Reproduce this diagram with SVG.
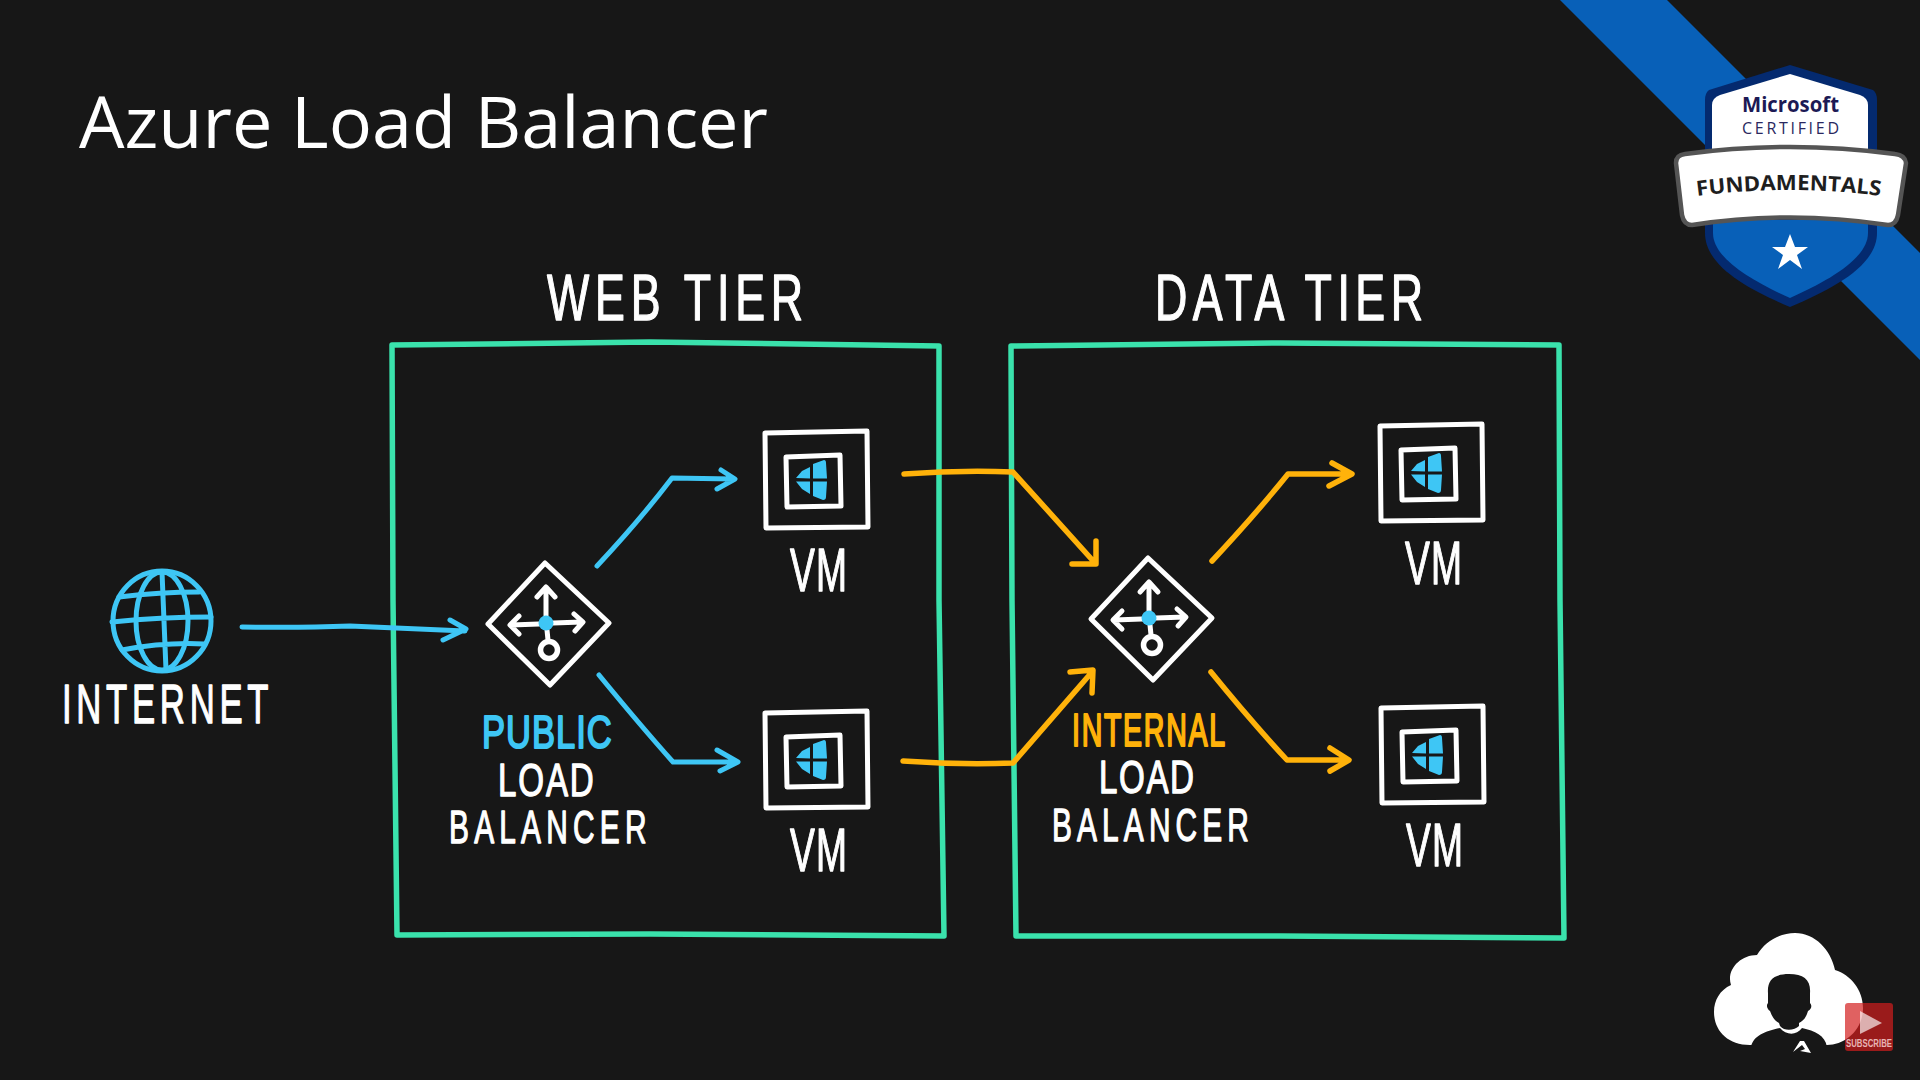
<svg xmlns="http://www.w3.org/2000/svg" xmlns:xlink="http://www.w3.org/1999/xlink" width="1920" height="1080" viewBox="0 0 1920 1080">
<style>
.hand{font-family:"Liberation Sans","Noto Sans",sans-serif;stroke-linejoin:round;stroke-linecap:round;stroke-width:1.3}
.w{fill:#fff;stroke:#fff}.c{fill:#3ec6f5;stroke:#3ec6f5;stroke-width:2}.o{fill:#ffb20a;stroke:#ffb20a;stroke-width:2.2}
.line{fill:none;stroke-linecap:round;stroke-linejoin:round}
.wl{stroke:#fff;stroke-width:5}.cl{stroke:#3ec6f5;stroke-width:5}.ol{stroke:#ffb20a;stroke-width:5.5}.gl{stroke:#3ae2ac;stroke-width:5.5}
</style>
<defs>
<g id="vm-icon">
<path class="line wl" d="M765,433 L867,431 L868,527 L766,528 Z"/>
<path class="line wl" d="M786,457 L840,455 L841,506 L787,507 Z"/>
<path fill="#3ec6f5" d="M796,478 L802,471 L810,467 V478.5 Z M796,481.5 H810 V494 L802,489 Z M813,464 L824,460 Q826,460 826,463 L827,478.5 H813 Z M813,481.5 H827 L826,497 Q826,500 823,500 L813,496 Z"/>
</g>
<g id="lb-icon">
<path class="line wl" d="M1148,558 L1212,618 L1153,680 L1091,619 Z"/>
<path class="line wl" d="M1149,612 V584 M1140,592 L1149,582 L1158,592 M1142,619 L1114,620 M1122,611 L1113,620 L1122,629 M1156,618 L1185,617 M1177,609 L1186,617 L1178,626 M1150,625 L1151,635"/>
<circle cx="1152" cy="645" r="8.5" fill="none" stroke="#fff" stroke-width="5.5"/>
<circle cx="1149" cy="618" r="7.5" fill="#3ec6f5"/>
</g>
</defs>
<rect id="background" width="1920" height="1080" fill="#171717"/>
<polygon id="ribbon" points="1560,0 1667,0 1920,253 1920,360" fill="#0860b8"/>
<text id="title" x="79" y="148" font-family="'Open Sans','Noto Sans',sans-serif" font-size="72" fill="#fff" textLength="689" lengthAdjust="spacingAndGlyphs">Azure Load Balancer</text>

<g id="connectors">
<path class="line gl" d="M392,345 L650,342 L939,346 L939,600 L944,936 L650,934 L397,935 L393,600 Z" id="web-tier-box"/>
<path class="line gl" d="M1011,346 L1280,343 L1559,345 L1560,600 L1564,938 L1280,936 L1016,936 L1012,600 Z" id="data-tier-box"/>
<path class="line cl" d="M242,627 Q300,628 350,626 L465,631 M450,620 L466,629 L443,640"/>
<path class="line cl" d="M597,566 Q640,520 672,478 L733,479 M721,470 L735,479 L717,489"/>
<path class="line cl" d="M599,675 Q640,725 673,762 L736,762 M717,750 L738,762 L720,771"/>
<path class="line ol" d="M904,474 Q960,470 1013,472 L1095,563 M1096,541 L1096,564 L1072,564"/>
<path class="line ol" d="M903,761 Q960,765 1013,763 L1092,672 M1070,672 L1093,670 L1092,693"/>
<path class="line ol" d="M1212,561 Q1255,515 1288,474 L1350,474 M1332,463 L1352,474 L1329,486"/>
<path class="line ol" d="M1211,672 Q1250,720 1287,760 L1347,760 M1330,748 L1349,760 L1330,771"/>
</g>

<g id="internet">
<g class="line cl">
<ellipse cx="162" cy="621" rx="49" ry="50"/>
<ellipse cx="162" cy="621" rx="26" ry="49"/>
<path d="M162,572 L166,670 M119,597 Q160,592 199,592 M112,622 Q160,617 211,617 M122,650 Q165,642 204,644"/>
</g>
<text class="hand w" transform="translate(62,723) scale(.62,1)" font-size="56" textLength="333" lengthAdjust="spacing">INTERNET</text>
</g>

<g id="web-tier-label"><text class="hand w" transform="translate(547,320) scale(.7,1)" font-size="64" textLength="366" lengthAdjust="spacing">WEB TIER</text></g>
<g id="data-tier-label"><text class="hand w" transform="translate(1155,320) scale(.7,1)" font-size="64" textLength="383" lengthAdjust="spacing">DATA TIER</text></g>

<g id="public-lb">
<use xlink:href="#lb-icon" href="#lb-icon" transform="translate(-603,5)"/>
<text class="hand c" transform="translate(482,748) scale(.75,1)" font-size="46" textLength="173" lengthAdjust="spacing">PUBLIC</text>
<text class="hand w" transform="translate(498,796) scale(.72,1)" font-size="46" textLength="133" lengthAdjust="spacing">LOAD</text>
<text class="hand w" transform="translate(449,843) scale(.65,1)" font-size="46" textLength="304" lengthAdjust="spacing">BALANCER</text>
</g>
<g id="internal-lb">
<use xlink:href="#lb-icon" href="#lb-icon"/>
<text class="hand o" transform="translate(1072,746) scale(.62,1)" font-size="46" textLength="247" lengthAdjust="spacing">INTERNAL</text>
<text class="hand w" transform="translate(1099,793) scale(.72,1)" font-size="46" textLength="132" lengthAdjust="spacing">LOAD</text>
<text class="hand w" transform="translate(1052,841) scale(.65,1)" font-size="46" textLength="303" lengthAdjust="spacing">BALANCER</text>
</g>

<g id="web-vm-1"><use xlink:href="#vm-icon" href="#vm-icon"/><text class="hand w" transform="translate(790,591) scale(.6,1)" font-size="62" textLength="95" lengthAdjust="spacing">VM</text></g>
<g id="web-vm-2"><use xlink:href="#vm-icon" href="#vm-icon" transform="translate(0,280)"/><text class="hand w" transform="translate(790,871) scale(.6,1)" font-size="62" textLength="95" lengthAdjust="spacing">VM</text></g>
<g id="data-vm-1"><use xlink:href="#vm-icon" href="#vm-icon" transform="translate(615,-7)"/><text class="hand w" transform="translate(1405,584) scale(.6,1)" font-size="62" textLength="95" lengthAdjust="spacing">VM</text></g>
<g id="data-vm-2"><use xlink:href="#vm-icon" href="#vm-icon" transform="translate(616,275)"/><text class="hand w" transform="translate(1406,866) scale(.6,1)" font-size="62" textLength="95" lengthAdjust="spacing">VM</text></g>

<g id="badge">
<path fill="#042a6f" d="M1790,65 L1873,90 Q1877,93 1877,100 L1877,233 C1877,265 1835,288 1790,307 C1745,288 1705,265 1705,233 L1705,100 Q1705,93 1709,90 Z"/>
<path fill="#fff" d="M1790,74 L1860,95 Q1868,98 1868,105 L1868,155 L1712,155 L1712,105 Q1712,98 1720,95 Z"/>
<path fill="#0860b8" d="M1713,220 L1868,220 L1868,233 C1868,258 1830,280 1790,298 C1750,280 1713,258 1713,233 Z"/>
<path fill="#fff" stroke="#555" stroke-width="4.5" stroke-linejoin="round" d="M1676,163 Q1676,155 1685,154 Q1790,140 1895,154 Q1905,155 1906,163 L1898,215 Q1896,225 1888,225 Q1790,210 1692,225 Q1684,225 1682,215 Z"/>
<polygon fill="#fff" points="1790,234 1795,247 1808,247 1797,255 1802,269 1790,260 1778,269 1783,255 1772,247 1785,247"/>
<text x="1742" y="112" font-family="'Open Sans','Noto Sans',sans-serif" font-weight="700" font-size="21" fill="#1c1a55" textLength="97" lengthAdjust="spacingAndGlyphs">Microsoft</text>
<text x="1742" y="134" font-family="'Open Sans','Noto Sans',sans-serif" font-size="16" fill="#2a2860" textLength="97">CERTIFIED</text>
<path id="fund-arc" d="M1697,196 Q1789,184 1881,196" fill="none"/>
<text font-family="'Open Sans','Noto Sans',sans-serif" font-weight="700" font-size="21" fill="#1e1e1e"><textPath xlink:href="#fund-arc" href="#fund-arc" textLength="184" lengthAdjust="spacingAndGlyphs">FUNDAMENTALS</textPath></text>
</g>

<g id="presenter">
<path fill="#fff" d="M1750,1045 C1727,1045 1714,1030 1714,1012 C1714,1000 1720,990 1731,985 C1726,970 1740,955 1757,955 C1765,941 1780,933 1795,933 C1815,933 1831,950 1835,970 C1851,975 1863,990 1863,1008 C1863,1030 1845,1045 1827,1045 Z"/>
<path fill="#171717" d="M1751,1047 C1753,1036 1765,1031 1780,1028 C1786,1035 1796,1036 1802,1028 C1815,1031 1825,1035 1827,1047 Z"/>
<path fill="#171717" d="M1789,974 C1804,974 1811,980 1810,993 L1810,1003 C1812,1005 1812,1009 1808,1011 C1806,1018 1803,1021 1799,1023 L1799,1026 C1795,1030 1785,1032 1780,1026 L1779,1023 C1775,1021 1772,1017 1770,1011 C1767,1009 1766,1005 1768,1003 L1768,993 C1767,980 1774,974 1789,974 Z"/>
<path fill="#fff" d="M1793,1052 L1800,1041 L1804,1041 L1811,1053 L1800,1051 L1805,1049 L1802,1045 Z"/>
<rect x="1845" y="1003" width="48" height="48" rx="3" fill="#d31e1e" opacity=".7"/>
<polygon points="1860,1011 1882,1023 1860,1034" fill="#fff" opacity=".65"/>
<text x="1846" y="1047" font-family="'Liberation Sans',sans-serif" font-weight="700" font-size="11.5" fill="#e8b4b4" textLength="46" lengthAdjust="spacingAndGlyphs">SUBSCRIBE</text>
</g>
</svg>
